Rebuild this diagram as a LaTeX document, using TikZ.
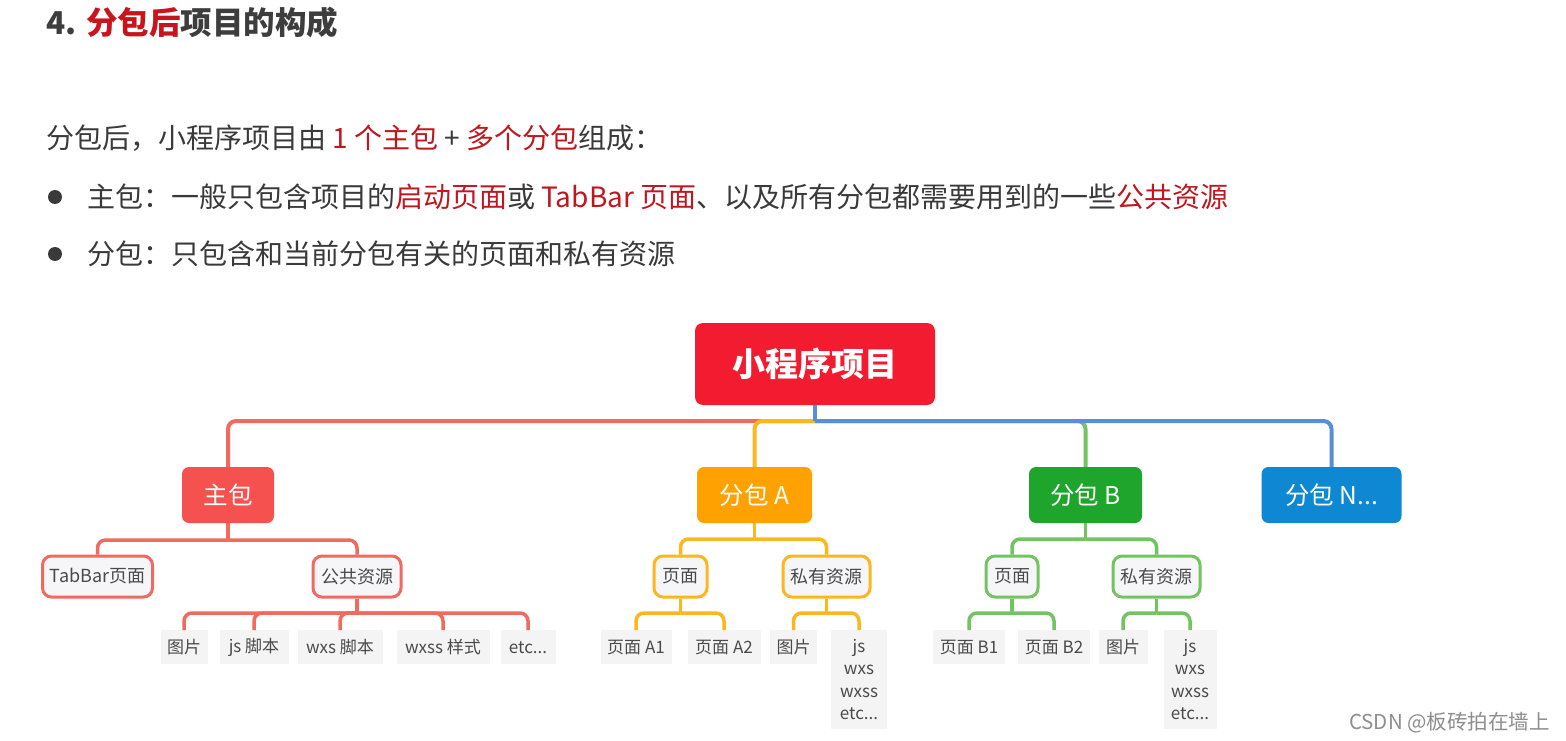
\documentclass[tikz,border=0pt]{standalone}
\usepackage{fontspec}
\setmainfont{Noto Sans CJK SC}
\definecolor{txt}{HTML}{3A3A3A}
\definecolor{titlegray}{HTML}{3D3D3D}
\definecolor{titlered}{HTML}{C8141C}
\definecolor{bodyred}{HTML}{C0161E}
\definecolor{rootred}{HTML}{F21B2F}
\definecolor{zhured}{HTML}{F4514F}
\definecolor{aorange}{HTML}{FFA100}
\definecolor{bgreen}{HTML}{1FA52B}
\definecolor{nblue}{HTML}{0F88D4}
\definecolor{cred}{HTML}{F06A60}
\definecolor{corange}{HTML}{FDB61E}
\definecolor{cgreen}{HTML}{72C460}
\definecolor{cblue}{HTML}{5A8FD6}
\definecolor{boxfill}{HTML}{F6F6F8}
\definecolor{leaffill}{HTML}{F4F4F5}
\definecolor{leaftxt}{HTML}{4A4A4A}
\definecolor{wm}{HTML}{8E8E8E}
\newcommand{\rd}[1]{\textcolor{bodyred}{#1}}
\begin{document}
\begin{tikzpicture}[x=1pt,y=-1pt,
  lone/.style={rounded corners=7pt, text=white, font=\fontsize{24.5}{28}\selectfont, minimum height=56pt, inner sep=0pt},
  ltwo/.style={draw, line width=3pt, rounded corners=9pt, fill=boxfill, text=leaftxt, font=\fontsize{18}{22}\selectfont, minimum height=41pt, inner sep=0pt},
  leaf/.style={fill=leaffill, text=leaftxt, font=\fontsize{17}{22}\selectfont, minimum height=34pt, inner sep=0pt, anchor=north},
  multileaf/.style={leaf, align=center, font=\fontsize{17}{22.5}\selectfont, inner ysep=9pt},
  conn/.style={line width=4pt, rounded corners=8pt},
  conntwo/.style={line width=3.5pt, rounded corners=8pt},
  body/.style={anchor=west, inner sep=0pt, text=txt, font=\fontsize{28}{34}\selectfont}
]
\fill[white] (0,0) rectangle (1566,741);
\useasboundingbox (0,0) rectangle (1566,741);

% title and text
\node[anchor=west, inner sep=0pt, text=titlegray, font=\bfseries\fontsize{31.5}{36}\selectfont] (title) at (46,22) {4. \textcolor{titlered}{分包后}项目的构成};
\node[body] (line1) at (46,138) {分包后，小程序项目由 \rd{1 个主包} + \rd{多个分包}组成：};
\node[circle, fill=txt, minimum size=14pt, inner sep=0pt] (bul1) at (55,197) {};
\node[body] (line2) at (87,197) {主包：一般只包含项目的\rd{启动页面}或 \rd{TabBar 页面}、以及所有分包都需要用到的一些\rd{公共资源}};
\node[circle, fill=txt, minimum size=14pt, inner sep=0pt] (bul2) at (55,254) {};
\node[body] (line3) at (87,254) {分包：只包含和当前分包有关的页面和私有资源};

% root and level 1
\node[rounded corners=8pt, fill=rootred, text=white, font=\bfseries\fontsize{33}{38}\selectfont, minimum width=240pt, minimum height=82pt, inner sep=0pt] (root) at (815,364) {小程序项目};
\node[lone, fill=zhured, minimum width=92pt] (zhu) at (228,495) {主包};
\node[lone, fill=aorange, minimum width=115pt] (fa) at (754.5,495) {分包 A};
\node[lone, fill=bgreen, minimum width=113pt] (fb) at (1085.5,495) {分包 B};
\node[lone, fill=nblue, minimum width=140pt] (fn) at (1331.5,495) {分包 N...};

% level 2
\node[ltwo, draw=cred, minimum width=110pt] (tab) at (97.5,576.5) {TabBar页面};
\node[ltwo, draw=cred, minimum width=88pt] (gg) at (357,576.5) {公共资源};
\node[ltwo, draw=corange, minimum width=53pt] (ay) at (680.5,576.5) {页面};
\node[ltwo, draw=corange, minimum width=87pt] (as) at (826.5,576.5) {私有资源};
\node[ltwo, draw=cgreen, minimum width=52pt] (by) at (1012,576.5) {页面};
\node[ltwo, draw=cgreen, minimum width=87pt] (bs) at (1156.5,576.5) {私有资源};

% leaves
\node[leaf, minimum width=47pt] (g1) at (184,630) {图片};
\node[leaf, minimum width=69pt] (g2) at (254,630) {js 脚本};
\node[leaf, minimum width=85pt] (g3) at (340,630) {wxs 脚本};
\node[leaf, minimum width=93pt] (g4) at (443,630) {wxss 样式};
\node[leaf, minimum width=55pt] (g5) at (528,630) {etc...};
\node[leaf, minimum width=71pt] (a1) at (636,630) {页面 A1};
\node[leaf, minimum width=73pt] (a2) at (724,630) {页面 A2};
\node[leaf, minimum width=47pt] (a3) at (793.5,630) {图片};
\node[multileaf, minimum width=56pt] (a4) at (859,630) {js\\wxs\\wxss\\etc...};
\node[leaf, minimum width=72pt] (b1) at (969,630) {页面 B1};
\node[leaf, minimum width=72pt] (b2) at (1054,630) {页面 B2};
\node[leaf, minimum width=49pt] (b3) at (1123,630) {图片};
\node[multileaf, minimum width=53pt] (b4) at (1190,630) {js\\wxs\\wxss\\etc...};

% level 1 connectors
\coordinate (rb) at (815,421);
\draw[conn, cred] (rb) -| (zhu.north);
\draw[conn, cgreen] (rb) -| (fb.north);
\draw[conn, corange] (rb) -| (fa.north);
\draw[conn, cblue] (root.south) -- (rb);
\draw[conn, cblue] (rb) -| (fn.north);

% main package connectors
\coordinate (zb) at (228,540);
\draw[conntwo, cred] (zhu.south) -- (zb);
\draw[conntwo, cred] (zb) -| (tab.north);
\draw[conntwo, cred] (zb) -| (gg.north);
\coordinate (ggb) at (357,613);
\draw[conntwo, cred] (gg.south) -- (ggb);
\foreach \n in {g1,g2,g3,g4,g5} {\draw[conntwo, cred] (ggb) -| (\n.north);}

% package A connectors
\coordinate (fab) at (754.5,539);
\draw[conntwo, corange] (fa.south) -- (fab);
\draw[conntwo, corange] (fab) -| (ay.north);
\draw[conntwo, corange] (fab) -| (as.north);
\coordinate (ayb) at (680.5,613);
\draw[conntwo, corange] (ay.south) -- (ayb);
\draw[conntwo, corange] (ayb) -| (a1.north);
\draw[conntwo, corange] (ayb) -| (a2.north);
\coordinate (asb) at (826.5,613);
\draw[conntwo, corange] (as.south) -- (asb);
\draw[conntwo, corange] (asb) -| (a3.north);
\draw[conntwo, corange] (asb) -| (a4.north);

% package B connectors
\coordinate (fbb) at (1085.5,539);
\draw[conntwo, cgreen] (fb.south) -- (fbb);
\draw[conntwo, cgreen] (fbb) -| (by.north);
\draw[conntwo, cgreen] (fbb) -| (bs.north);
\coordinate (byb) at (1012,613);
\draw[conntwo, cgreen] (by.south) -- (byb);
\draw[conntwo, cgreen] (byb) -| (b1.north);
\draw[conntwo, cgreen] (byb) -| (b2.north);
\coordinate (bsb) at (1156.5,613);
\draw[conntwo, cgreen] (bs.south) -- (bsb);
\draw[conntwo, cgreen] (bsb) -| (b3.north);
\draw[conntwo, cgreen] (bsb) -| (b4.north);

% watermark
\node[anchor=east, inner sep=0pt, text=wm, font=\fontsize{20.5}{24}\selectfont] (wmark) at (1550,723) {CSDN @板砖拍在墙上};
\end{tikzpicture}
\end{document}
